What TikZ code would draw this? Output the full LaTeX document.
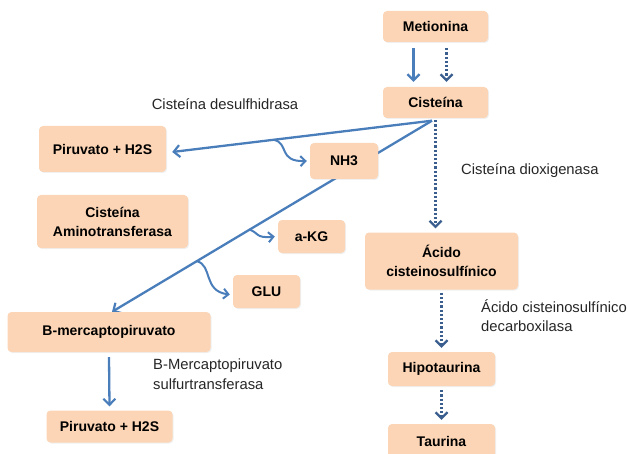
\documentclass[tikz,border=0pt]{standalone}
\usepackage{fontspec}
\setmainfont{Liberation Sans}
\usetikzlibrary{arrows.meta}
\usetikzlibrary{calc}
\usetikzlibrary{shadows}
\usetikzlibrary{backgrounds}
\definecolor{peach}{HTML}{FBD5B5}
\definecolor{arrowblue}{HTML}{4A7EBB}
\definecolor{dotblue}{HTML}{3A5F8F}
\definecolor{labelgray}{HTML}{262626}

\begin{document}
\begin{tikzpicture}[x=1pt,y=-1pt]
\tikzstyle{box} = [rectangle, fill=peach, rounded corners=4pt, align=center,
font=\fontsize{14}{19}\selectfont\bfseries, inner sep=2pt,
drop shadow={opacity=0.12, shadow xshift=1pt, shadow yshift=-1pt}]
\tikzstyle{enzyme} = [align=left, text=labelgray, inner sep=0pt,
font=\fontsize{14.8}{19.5}\selectfont]
\tikzstyle{line} = [draw=arrowblue, line width=2.3pt,
-{Straight Barb[length=6pt,width=12pt,line width=2.2pt]}]
\tikzstyle{dotline} = [draw=dotblue, line width=2.6pt, dash pattern=on 2.2pt off 2pt,
-{Straight Barb[length=6pt,width=12pt,line width=2.2pt]}]
\tikzstyle{branch} = [draw=arrowblue, line width=2pt,
-{Straight Barb[length=5pt,width=10pt,line width=2pt]}]
\useasboundingbox (0,0) rectangle (628,454);
% column right
\node [box, minimum width=105pt, minimum height=31pt] (met) at (435.5,26.5) {Metionina};
\node [box, minimum width=105pt, minimum height=31pt] (cis) at (435.5,102.5) {Cisteína};
\node [box, minimum width=153pt, minimum height=57pt] (acido) at (441.5,261) {Ácido\\cisteinosulfínico};
\node [box, minimum width=107pt, minimum height=34pt] (hipo) at (441.5,369) {Hipotaurina};
\node [box, minimum width=107pt, minimum height=34pt] (tau) at (441.5,441) {Taurina};
% column left
\node [box, minimum width=127pt, minimum height=46pt] (pir1) at (102.5,149) {Piruvato + H2S};
\node [box, minimum width=68pt, minimum height=36pt] (nh3) at (344,161) {NH3};
\node [box, minimum width=151pt, minimum height=53pt] (amino) at (112.5,221.5) {Cisteína\\Aminotransferasa};
\node [box, minimum width=67pt, minimum height=33pt] (akg) at (311.5,236.5) {a-KG};
\node [box, minimum width=67pt, minimum height=33pt] (glu) at (266.5,291.5) {GLU};
\node [box, minimum width=203pt, minimum height=40pt] (bmer) at (109,332) {B-mercaptopiruvato};
\node [box, minimum width=126pt, minimum height=32pt] (pir2) at (109.5,426.5) {Piruvato + H2S};
% enzymes
\node [enzyme] (desulf) at (225,104) {Cisteína desulfhidrasa};
\node [enzyme, anchor=west] (dioxi) at (461,171) {Cisteína dioxigenasa};
\node [enzyme, anchor=north west] (decarb) at (481,299) {Ácido cisteinosulfínico\\decarboxilasa};
\node [enzyme, anchor=north west] (sulfur) at (153,359) {B-Mercaptopiruvato\\sulfurtransferasa};

\coordinate (cisout) at ($(cis.south)+(-3.5,2.5)$);
\draw[line] ([xshift=-22pt,yshift=-6pt]met.south) -- ([xshift=-22pt,yshift=5pt]cis.north);
\draw[dotline] ([xshift=11pt,yshift=-6pt]met.south) -- ([xshift=11pt,yshift=5pt]cis.north);
\draw[line] (cisout) -- coordinate[pos=0.61] (nhsplit) ($(pir1.east)+(6,3)$);
\begin{pgfonlayer}{background}
\draw[line] (cisout) -- coordinate[pos=0.57] (kgsplit) coordinate[pos=0.735] (glusplit) ($(bmer.north)+(3,0)$);
\end{pgfonlayer}
\draw[branch] (nhsplit) .. controls ($(nhsplit)+(16,3)$) and ($(nhsplit)+(4,22)$) .. ([xshift=-3pt]nh3.west);
\draw[branch] (kgsplit) .. controls ($(kgsplit)+(9,3)$) and ($(kgsplit)+(6,9)$) .. ([xshift=-3pt]akg.west);
\draw[branch] (glusplit) .. controls ($(glusplit)+(16,4)$) and ($(glusplit)+(6,30)$) .. ([xshift=-3pt,yshift=-3pt]glu.west);
\draw[dotline] ([yshift=-2pt]cis.south) -- ([yshift=4pt]cis.south |- acido.north);
\draw[dotline] ([yshift=-3pt]acido.south) -- ([yshift=4pt]hipo.north);
\draw[dotline] ([yshift=-4pt]hipo.south) -- ([yshift=4pt]tau.north);
\draw[line] ([yshift=-5pt]bmer.south) -- ([yshift=4pt]pir2.north);
\end{tikzpicture}
\end{document}
